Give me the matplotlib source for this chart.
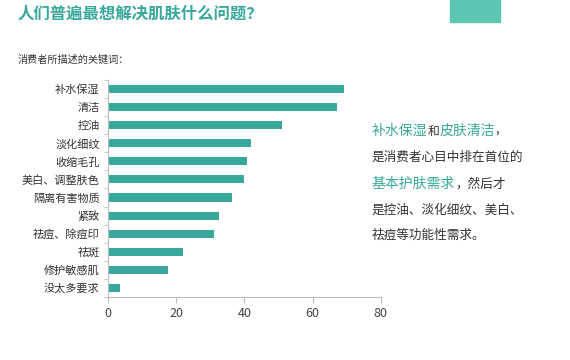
import matplotlib
matplotlib.use("Agg")
import matplotlib.pyplot as plt
from matplotlib.patches import Rectangle

plt.rcParams['font.family'] = ['Noto Sans CJK SC', 'DejaVu Sans']

categories = ['补水保湿', '清洁', '控油', '淡化细纹', '收缩毛孔', '美白、调整肤色',
              '隔离有害物质', '紧致', '祛痘、除痘印', '祛斑', '修护敏感肌', '没太多要求']
values = [69.2, 67.2, 51.1, 41.9, 40.7, 39.9, 36.5, 32.6, 31.1, 21.9, 17.7, 3.5]
xticks = [0, 20, 40, 60, 80]

teal = '#37a89b'
dark = '#333333'

fig = plt.figure(figsize=(5.7, 3.6), dpi=100)
ax = fig.add_axes([0.1895, 0.175, 0.4785, 0.603])

y = list(range(len(categories)))
ax.barh(y, values, height=0.45, color=teal)
ax.set_ylim(len(categories) - 0.5, -0.5)
ax.set_xlim(0, 80)
ax.set_xticks(xticks)
ax.set_yticks(y)
ax.set_yticklabels(categories, fontsize=8, color=dark)
ax.tick_params(axis='y', length=0, pad=6)
ax.set_yticks([i + 0.5 for i in range(-1, len(categories))], minor=True)
ax.tick_params(axis='y', which='minor', length=3, color='#bbbbbb')
ax.tick_params(axis='x', length=4, color='#bbbbbb', labelsize=9, labelcolor='#444444', pad=3)
for s in ['top', 'right']:
    ax.spines[s].set_visible(False)
for s in ['left', 'bottom']:
    ax.spines[s].set_color('#bbbbbb')
    ax.spines[s].set_linewidth(0.8)

# header
fig.text(18 / 570, 1 - 14 / 360, '人们普遍最想解决肌肤什么问题？', fontsize=11.8,
         fontweight='bold', color=teal, va='center', ha='left')
fig.text(18 / 570, 1 - 60 / 360, '消费者所描述的关键词：', fontsize=7.3,
         color=dark, va='center', ha='left')
fig.patches.append(Rectangle((450 / 570, 1 - 22 / 360), 50 / 570, 22 / 360,
                             transform=fig.transFigure, color='#5cc6b2', zorder=0))

# right-hand note
lines = [
    [('补水保湿', teal, 10), ('和', dark, 8.5), ('皮肤清洁', teal, 10), ('，', dark, 8.5)],
    [('是消费者心目中排在首位的', dark, 9.1)],
    [('基本护肤需求', teal, 10), ('，然后才', dark, 9.1)],
    [('是控油、淡化细纹、美白、', dark, 9.1)],
    [('祛痘等功能性需求。', dark, 9.1)],
]
line_y = [131, 157, 184, 210, 235]
renderer = fig.canvas.get_renderer()
for segs, yy in zip(lines, line_y):
    x = 372 / 570
    for txt, col, fs in segs:
        t = fig.text(x, 1 - yy / 360, txt, fontsize=fs, color=col, va='center', ha='left')
        bb = t.get_window_extent(renderer=renderer)
        x += bb.width / fig.bbox.width

fig.savefig('out.png', dpi=100)
